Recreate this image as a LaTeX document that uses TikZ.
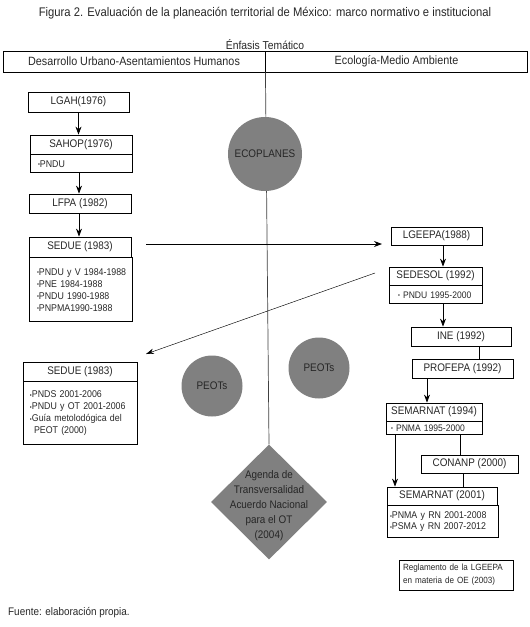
\documentclass[tikz,border=0pt]{standalone}
\usepackage{fontspec}
\setmainfont{Liberation Sans}[FakeStretch=0.9]
\usetikzlibrary{arrows.meta,shapes.geometric}
\definecolor{txt}{RGB}{40,40,40}
\definecolor{grayfill}{RGB}{128,128,128}
\newcommand{\mybul}{\raisebox{0.6pt}{\fontsize{6}{6}\selectfont •}}
\begin{document}
\begin{tikzpicture}[x=1pt,y=-1pt,
  box/.style={draw, line width=0.8pt, inner sep=0pt, font=\fontsize{11}{13}\selectfont, text=txt},
  lst/.style={draw, line width=0.8pt, anchor=north west, inner xsep=#1, inner ysep=0pt, align=left, font=\fontsize{9.8}{12}\selectfont, text=txt},
  lst/.default=6pt,
  hdr/.style={draw, line width=0.9pt, inner sep=0pt, minimum width=262, minimum height=21, font=\fontsize{12}{14}\selectfont, text=txt},
  arr/.style={-{Stealth[length=8pt,width=6pt]}, line width=0.8pt},
  conn/.style={line width=0.8pt},
  circ/.style={circle, fill=grayfill, inner sep=0pt, font=\fontsize{11}{13}\selectfont, text=black!85},
  plain/.style={inner sep=0pt, text=txt}
]
\useasboundingbox[fill=white] (0,0) rectangle (530,627);

% title
\node[plain, font=\fontsize{12.5}{14}\selectfont] (title) at (265,13) {Figura 2. Evaluación de la planeación territorial de México: marco normativo e institucional};
\node[plain, font=\fontsize{11.5}{14}\selectfont] (enf) at (265,45) {Énfasis Temático};

% header
\node[hdr] (hl) at (134,61.5) {Desarrollo Urbano-Asentamientos Humanos};
\node[hdr] (hr) at (396.5,61.5) {Ecología-Medio Ambiente};

% diamond
\node[diamond, fill=grayfill, minimum width=116, minimum height=115, inner sep=0pt] (agenda) at (269,502) {};
\node[plain, align=center, font=\fontsize{11}{15}\selectfont, text=black!85] (agendaT) at (269,506)
  {Agenda de\\Transversalidad\\Acuerdo Nacional\\para el OT\\(2004)};

% vertical axis
\draw[line width=0.7pt, black!75] (hl.south east) -- (agenda.north);

% circles
\node[circ, minimum size=74] (eco) at (265,154) {ECOPLANES};
\node[circ, minimum size=61] (peot1) at (212,386) {PEOTs};
\node[circ, minimum size=61] (peot2) at (319,368) {PEOTs};

% left column
\node[box, minimum width=101, minimum height=20] (lgah) at (78.5,102) {LGAH(1976)};
\node[box, minimum width=102, minimum height=19] (sahop) at (81,144.5) {SAHOP(1976)};
\node[lst=8pt, minimum width=102, minimum height=18, text width=86] (sahopL) at (sahop.south west) {\mybul PNDU};
\node[box, minimum width=102, minimum height=19] (lfpa) at (80,203.5) {LFPA (1982)};
\node[box, minimum width=102, minimum height=20] (sedue1) at (80,247) {SEDUE (1983)};
\node[lst=8pt, minimum width=103, minimum height=64, text width=87] (sedue1L) at (sedue1.south west)
  {\mbox{\mybul PNDU y V 1984-1988}\\\mbox{\mybul PNE 1984-1988}\\\mbox{\mybul PNDU 1990-1988}\\\mbox{\mybul PNPMA1990-1988}};
\node[box, minimum width=114, minimum height=19] (sedue2) at (80,371.5) {SEDUE (1983)};
\node[lst=7pt, minimum width=114, minimum height=63, text width=100] (sedue2L) at (sedue2.south west)
  {\mbox{\mybul PNDS 2001-2006}\\\mbox{\mybul PNDU y OT 2001-2006}\\\mbox{\mybul Guía metolodógica del}\\\mbox{\hspace{4pt}PEOT (2000)}};

% right column
\node[box, minimum width=91, minimum height=18] (lgeepa) at (436.5,236) {LGEEPA(1988)};
\node[box, minimum width=93, minimum height=18] (sedesol) at (435.5,276) {SEDESOL (1992)};
\node[lst=9pt, minimum width=93, minimum height=18, text width=75, font=\fontsize{9.5}{12}\selectfont] (sedesolL) at (sedesol.south west) {\mbox{\mybul\ PNDU 1995-2000}};
\node[box, minimum width=100, minimum height=19] (ine) at (461,336.5) {INE (1992)};
\node[box, minimum width=101, minimum height=19] (profepa) at (462.5,368.5) {PROFEPA (1992)};
\node[box, minimum width=96, minimum height=18] (sem94) at (434,412) {SEMARNAT (1994)};
\node[lst=5pt, minimum width=96, minimum height=13, text width=86, font=\fontsize{9.5}{12}\selectfont] (sem94L) at (sem94.south west) {\mbox{\mybul\ PNMA 1995-2000}};
\node[box, minimum width=97, minimum height=18] (conanp) at (469.5,464) {CONANP (2000)};
\node[box, minimum width=110, minimum height=18] (sem01) at (442,496) {SEMARNAT (2001)};
\node[lst=3pt, minimum width=111, minimum height=32, text width=105, font=\fontsize{9.8}{11}\selectfont] (sem01L) at (sem01.south west)
  {\mbox{\mybul PNMA y RN 2001-2008}\\\mbox{\mybul PSMA y RN 2007-2012}};
\node[draw, line width=0.5pt, inner xsep=4pt, inner ysep=0pt, minimum width=114, minimum height=30, text width=106, align=left, font=\fontsize{9}{13}\selectfont, text=txt] (regl) at (456,575)
  {\mbox{Reglamento de la LGEEPA}\\\mbox{en materia de OE (2003)}};

% source
\node[plain, anchor=west, font=\fontsize{11}{13}\selectfont] (fuente) at (8,613) {Fuente: elaboración propia.};

% connectors left
\draw[arr] (lgah.south) -- (lgah.south |- sahop.north);
\draw[arr] ([xshift=-2pt]sahopL.south) -- ([xshift=-2pt]sahopL.south |- lfpa.north);
\draw[arr] ([xshift=-1pt]lfpa.south) -- ([xshift=-1pt]lfpa.south |- sedue1.north);
\coordinate (s1) at (146,244);
\coordinate (s2) at (382,244);
\draw[arr] (s1) -- (s2);
\coordinate (d1) at (375,273);
\coordinate (d2) at (146,354);
\draw[-{Stealth[length=8pt,width=5.5pt]}, line width=0.45pt] (d1) -- (d2);

% connectors right
\draw[arr] ([xshift=6.5pt]lgeepa.south) -- ([xshift=6.5pt]lgeepa.south |- sedesol.north);
\draw[arr] ([xshift=7.5pt]sedesolL.south) -- ([xshift=7.5pt]sedesolL.south |- ine.north);
\draw[conn] ([xshift=18pt]ine.south) -- ([xshift=18pt]ine.south |- profepa.north);
\draw[arr] ([xshift=-35.5pt]profepa.south) -- ([xshift=-35.5pt]profepa.south |- sem94.north);
\draw[arr] ([xshift=-39pt]sem94L.south) -- ([xshift=-39pt]sem94L.south |- sem01.north);
\draw[conn] ([xshift=26pt]sem94L.south) -- ([xshift=26pt]sem94L.south |- conanp.north);
\draw[conn] ([xshift=-6.5pt]conanp.south) -- ([xshift=-6.5pt]conanp.south |- sem01.north);
\end{tikzpicture}
\end{document}
